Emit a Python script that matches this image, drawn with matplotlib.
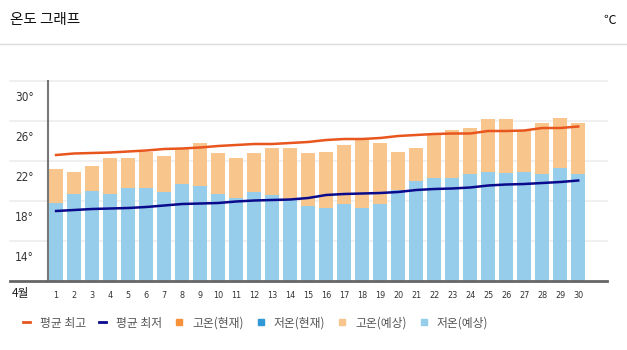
import matplotlib
matplotlib.use('Agg')
import matplotlib.pyplot as plt
from matplotlib.lines import Line2D

plt.rcParams['font.family'] = ['Noto Sans CJK KR', 'DejaVu Sans']

# 4월 일별 기온 (예상)
days = list(range(1, 31))
high_fc = [21.2, 20.9, 21.5, 22.3, 22.3, 22.9, 22.5, 23.3, 23.8, 22.8,
           22.3, 22.8, 23.3, 23.3, 22.8, 22.9, 23.6, 24.3, 23.8, 22.9,
           23.3, 24.6, 25.1, 25.3, 26.2, 26.2, 25.1, 25.8, 26.3, 25.8]
low_fc = [17.8, 18.7, 19.0, 18.7, 19.3, 19.3, 18.9, 19.7, 19.5, 18.7,
          18.3, 18.9, 18.6, 18.2, 17.5, 17.3, 17.7, 17.3, 17.7, 19.1,
          20.0, 20.3, 20.3, 20.7, 20.9, 20.8, 20.9, 20.7, 21.3, 20.7]
avg_high = [22.6, 22.75, 22.8, 22.85, 22.95, 23.05, 23.2, 23.25, 23.35, 23.5,
            23.6, 23.7, 23.7, 23.8, 23.9, 24.1, 24.2, 24.2, 24.3, 24.5,
            24.6, 24.7, 24.75, 24.75, 25.0, 25.0, 25.05, 25.3, 25.3, 25.45]
avg_low = [17.0, 17.1, 17.2, 17.25, 17.3, 17.4, 17.55, 17.7, 17.75, 17.8,
           17.95, 18.05, 18.1, 18.15, 18.3, 18.6, 18.7, 18.75, 18.8, 18.9,
           19.1, 19.2, 19.25, 19.35, 19.55, 19.65, 19.7, 19.8, 19.9, 20.05]
y_ticks = [14, 18, 22, 26, 30]

c_avg_high = '#e8561e'
c_avg_low = '#0a0a8c'
c_high_now = '#f7913a'
c_low_now = '#2f98d6'
c_high_fc = '#f8c68d'
c_low_fc = '#96cdea'

fig = plt.figure(figsize=(6.27, 3.5), dpi=100)
ax = fig.add_axes([48 / 627, 69 / 350, 559 / 627, 200 / 350])

base = 10
ax.bar(days, [h - base for h in high_fc], bottom=base, width=0.78, color=c_high_fc, zorder=2)
ax.bar(days, [l - base for l in low_fc], bottom=base, width=0.78, color=c_low_fc, zorder=3)
ax.plot(days, avg_high, color=c_avg_high, lw=1.8, zorder=4)
ax.plot(days, avg_low, color=c_avg_low, lw=1.8, zorder=4)

ax.set_xlim(0.55, 31.6)
ax.set_ylim(10, 30)

# 가로 격자선 (축 왼쪽까지 연장)
for v in y_ticks:
    ax.plot([-0.068, 1], [v, v], transform=ax.get_yaxis_transform(),
            color='#eeeeee', lw=1.2, clip_on=False, zorder=0)
ax.plot([-0.068, 1], [10, 10], transform=ax.get_yaxis_transform(),
        color='#666666', lw=2, clip_on=False, zorder=5)

# 눈금 라벨은 격자선 아래쪽에 표시
ax.set_yticks([v - 1.5 for v in y_ticks])
ax.set_yticklabels([f'{v}°' for v in y_ticks], fontsize=8.5, color='#333333',
                   family=['DejaVu Sans'], stretch='condensed')
ax.tick_params(axis='y', length=0, pad=10)
ax.set_xticks(days)
ax.set_xticklabels([str(d) for d in days], fontsize=6.5, color='#333333',
                   family=['DejaVu Sans'], stretch='condensed')
ax.tick_params(axis='x', length=0, pad=7)

for s in ['top', 'right', 'bottom']:
    ax.spines[s].set_visible(False)
ax.spines['left'].set_color('#777777')
ax.spines['left'].set_linewidth(1.5)

fig.text(12 / 627, 1 - 294 / 350, '4월', fontsize=8.5, color='#222222', va='center')

# 제목
fig.text(10 / 627, 1 - 20 / 350, '온도 그래프', fontsize=10.5, color='#111111', va='center')
fig.text(616 / 627, 1 - 20 / 350, '℃', fontsize=9, color='#111111', va='center', ha='right')
fig.add_artist(Line2D([0, 1], [1 - 44 / 350, 1 - 44 / 350], color='#dddddd', lw=1))

handles = [
    Line2D([], [], color=c_avg_high, lw=2),
    Line2D([], [], color=c_avg_low, lw=2),
    Line2D([], [], color=c_high_now, marker='s', ls='', markersize=5),
    Line2D([], [], color=c_low_now, marker='s', ls='', markersize=5),
    Line2D([], [], color=c_high_fc, marker='s', ls='', markersize=5),
    Line2D([], [], color=c_low_fc, marker='s', ls='', markersize=5),
]
labels = ['평균 최고', '평균 최저', '고온(현재)', '저온(현재)', '고온(예상)', '저온(예상)']
leg = fig.legend(handles, labels, loc='center left', bbox_to_anchor=(23 / 627, 1 - 323 / 350),
                 ncol=6, frameon=False, fontsize=8.5, handlelength=0.6,
                 handletextpad=0.8, columnspacing=1.15, labelcolor='#555555',
                 borderpad=0, borderaxespad=0)

fig.savefig('out.png', dpi=100)
